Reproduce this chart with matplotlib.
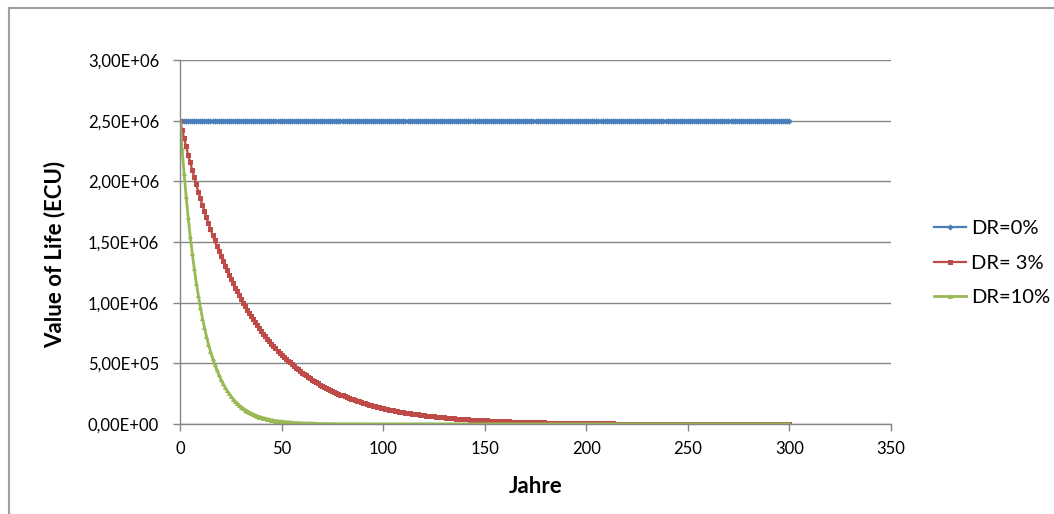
import matplotlib
matplotlib.use("Agg")
import matplotlib.pyplot as plt
from matplotlib.lines import Line2D
from matplotlib.ticker import FuncFormatter, MultipleLocator

plt.rcParams['font.family'] = ['Lato', 'DejaVu Sans']

# years 0..300, values in thousand ECU
years = list(range(0, 301))

dr0 = [2500] * 301

dr3 = [2500, 2427, 2356, 2288, 2221, 2157, 2094, 2033, 1974, 1916,
       1860, 1806, 1753, 1702, 1653, 1605, 1558, 1513, 1468, 1426,
       1384, 1344, 1305, 1267, 1230, 1194, 1159, 1125, 1093, 1061,
       1030, 1000, 971, 943, 915, 888, 863, 837, 813, 789,
       766, 744, 722, 701, 681, 661, 642, 623, 605, 587,
       570, 554, 538, 522, 507, 492, 478, 464, 450, 437,
       424, 412, 400, 388, 377, 366, 355, 345, 335, 325,
       316, 307, 298, 289, 281, 272, 264, 257, 249, 242,
       235, 228, 221, 215, 209, 203, 197, 191, 186, 180,
       175, 170, 165, 160, 155, 151, 146, 142, 138, 134,
       130, 126, 123, 119, 116, 112, 109, 106, 103, 100,
       97, 94, 91, 89, 86, 84, 81, 79, 76, 74,
       72, 70, 68, 66, 64, 62, 60, 59, 57, 55,
       54, 52, 51, 49, 48, 46, 45, 44, 42, 41,
       40, 39, 38, 36, 35, 34, 33, 32, 31, 31,
       30, 29, 28, 27, 26, 26, 25, 24, 23, 23,
       22, 21, 21, 20, 20, 19, 18, 18, 17, 17,
       16, 16, 15, 15, 15, 14, 14, 13, 13, 13,
       12, 12, 12, 11, 11, 11, 10, 10, 10, 9,
       9, 9, 9, 8, 8, 8, 8, 7, 7, 7,
       7, 7, 6, 6, 6, 6, 6, 5, 5, 5,
       5, 5, 5, 5, 4, 4, 4, 4, 4, 4,
       4, 4, 4, 3, 3, 3, 3, 3, 3, 3,
       3, 3, 3, 3, 2, 2, 2, 2, 2, 2,
       2, 2, 2, 2, 2, 2, 2, 2, 2, 2,
       2, 1, 1, 1, 1, 1, 1, 1, 1, 1,
       1, 1, 1, 1, 1, 1, 1, 1, 1, 1,
       1, 1, 1, 1, 1, 1, 1, 1, 1, 1,
       1, 1, 1, 1, 1, 1, 1, 1, 0, 0,
       0, 0, 0, 0, 0, 0, 0, 0, 0, 0, 0]

dr10 = [2500, 2273, 2066, 1878, 1708, 1552, 1411, 1283, 1166, 1060,
        964, 876, 797, 724, 658, 599, 544, 495, 450, 409,
        372, 338, 307, 279, 254, 231, 210, 191, 173, 158,
        143, 130, 118, 108, 98, 89, 81, 74, 67, 61,
        55, 50, 46, 42, 38, 34, 31, 28, 26, 23,
        21, 19, 18, 16, 15, 13, 12, 11, 10, 9,
        8, 7, 7, 6, 6, 5, 5, 4, 4, 3,
        3, 3, 3, 2, 2, 2, 2, 2, 1, 1,
        1, 1, 1, 1, 1, 1, 1, 1, 1, 1] + [0] * 211

labels = ['DR=0%', 'DR= 3%', 'DR=10%']
colors = ['#4A7EBB', '#BE4B48', '#98B954']
markers = ['D', 's', '^']

fig = plt.figure(figsize=(10.54, 5.14), dpi=100)
ax = fig.add_axes([180/1054, 1 - 424/514, 711/1054, 364/514])

for vals, lab, c, m, ms, lw in zip([dr0, dr3, dr10], labels, colors, markers,
                                   [3.2, 3.6, 3.6], [1.6, 1.6, 2.0]):
    ax.plot(years, [v * 1000 for v in vals], color=c, lw=lw, marker=m,
            markersize=ms, markeredgewidth=0, label=lab)

ax.set_xlim(0, 350)
ax.set_ylim(0, 3.0e6)
ax.xaxis.set_major_locator(MultipleLocator(50))
ax.yaxis.set_major_locator(MultipleLocator(5e5))
ax.yaxis.set_major_formatter(FuncFormatter(lambda v, p: f"{v:.2E}".replace('.', ',')))

grey = '#868686'
ax.grid(axis='y', color=grey, lw=1)
ax.set_axisbelow(True)
for s in ['top', 'right']:
    ax.spines[s].set_visible(False)
for s in ['left', 'bottom']:
    ax.spines[s].set_color(grey)
    ax.spines[s].set_linewidth(1)
ax.tick_params(axis='both', colors=grey, length=5, width=1, labelsize=12, labelcolor='black')
ax.tick_params(axis='y', pad=10)
ax.tick_params(axis='x', pad=7)

ax.set_xlabel('Jahre', fontsize=16, fontweight='bold', labelpad=14)
ax.set_ylabel('Value of Life (ECU)', fontsize=16, fontweight='bold')
ax.yaxis.set_label_coords(-0.161, 0.465)

fig.legend(loc='center left', bbox_to_anchor=(934/1054, 1 - 263/514), frameon=False,
           fontsize=14.5, numpoints=1, handlelength=1.6, handletextpad=0.25,
           labelspacing=0.85, borderpad=0, borderaxespad=0, markerscale=1.0)

# outer chart border (only top and left edges are visible)
fig.add_artist(Line2D([9/1054, 1], [1 - 7.5/514, 1 - 7.5/514], color='#A0A0A0', lw=1.5))
fig.add_artist(Line2D([9/1054, 9/1054], [0, 1 - 7.5/514], color='#A0A0A0', lw=1.5))

fig.savefig('out.png', dpi=100)
